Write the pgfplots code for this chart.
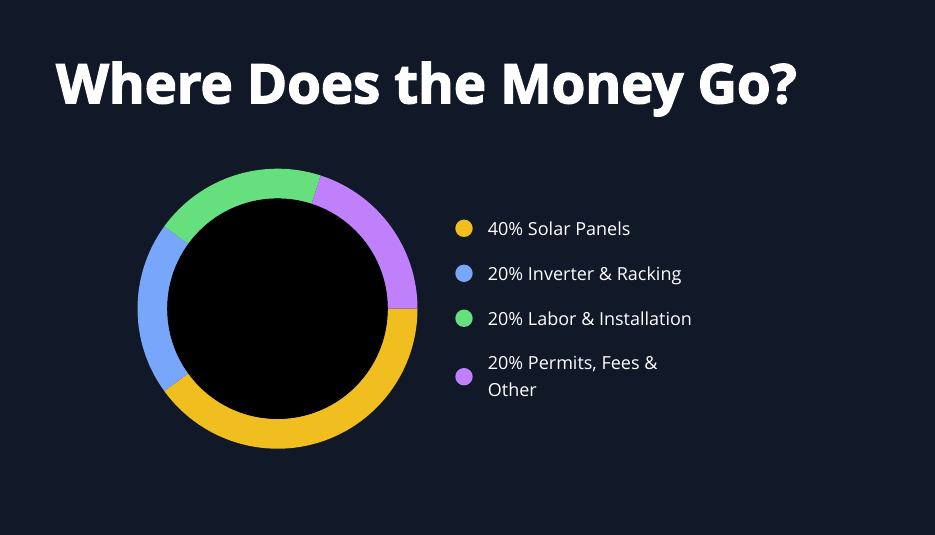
\documentclass[border=0pt]{standalone}
\usepackage{pgfplots}
\usepackage{pgfplotstable}
\pgfplotsset{compat=1.18}
\usepackage{fontspec}
\setmainfont{Open Sans}
\newfontfamily\titlefont[BoldFeatures={FakeBold=2.5}]{Open Sans}

\definecolor{bgc}{HTML}{111827}
\definecolor{solarc}{HTML}{F0BF1F}
\definecolor{inverterc}{HTML}{77A6FA}
\definecolor{laborc}{HTML}{66E07E}
\definecolor{permitc}{HTML}{C080FC}

% share of the money, clockwise from 3 o'clock
\pgfplotstableread{
share
40
20
20
20
}\shares

\begin{document}
\begin{tikzpicture}
  \pgfplotstablegetelem{0}{share}\of\shares \pgfmathsetmacro\aA{0-3.6*\pgfplotsretval}
  \pgfplotstablegetelem{1}{share}\of\shares \pgfmathsetmacro\aB{\aA-3.6*\pgfplotsretval}
  \pgfplotstablegetelem{2}{share}\of\shares \pgfmathsetmacro\aC{\aB-3.6*\pgfplotsretval}
  \pgfplotstablegetelem{3}{share}\of\shares \pgfmathsetmacro\aD{\aC-3.6*\pgfplotsretval}
  \fill[bgc] (0,0) rectangle (935pt,535pt);
  \begin{axis}[
    x=1pt, y=1pt,
    xmin=0, xmax=935, ymin=0, ymax=535,
    at={(0,0)}, anchor=south west,
    enlargelimits=false, hide axis, clip=false,
  ]
    % donut
    \fill[solarc] (axis cs:277.5,226.3) ++(0:140pt) arc[start angle=0, end angle=\aA, radius=140pt]
      -- ++(\aA:-30pt) arc[start angle=\aA, end angle=0, radius=110pt] -- cycle;
    \fill[inverterc] (axis cs:277.5,226.3) ++(\aA:140pt) arc[start angle=\aA, end angle=\aB, radius=140pt]
      -- ++(\aB:-30pt) arc[start angle=\aB, end angle=\aA, radius=110pt] -- cycle;
    \fill[laborc] (axis cs:277.5,226.3) ++(\aB:140pt) arc[start angle=\aB, end angle=\aC, radius=140pt]
      -- ++(\aC:-30pt) arc[start angle=\aC, end angle=\aB, radius=110pt] -- cycle;
    \fill[permitc] (axis cs:277.5,226.3) ++(\aC:140pt) arc[start angle=\aC, end angle=\aD, radius=140pt]
      -- ++(\aD:-30pt) arc[start angle=\aD, end angle=\aC, radius=110pt] -- cycle;
    \fill[black] (axis cs:277.5,226.3) circle[radius=110.3pt];

    % title
    \node[anchor=base west, inner sep=0pt, text=white, font=\titlefont\bfseries\fontsize{54.5}{60}\selectfont]
      at (axis cs:56,431.7) {Where Does the Money Go?};

    % legend
    \fill[solarc] (axis cs:464,306.7) circle[radius=8.7pt];
    \fill[inverterc] (axis cs:464,261.7) circle[radius=8.7pt];
    \fill[laborc] (axis cs:464,216.7) circle[radius=8.7pt];
    \fill[permitc] (axis cs:464,158.3) circle[radius=8.7pt];
    \begin{scope}[every node/.style={anchor=base west, inner sep=0pt, text=white, font=\fontsize{18}{20}\selectfont}]
      \node at (axis cs:487.7,299.3) {40\% Solar Panels};
      \node at (axis cs:487.7,254) {20\% Inverter \& Racking};
      \node at (axis cs:487.7,209.3) {20\% Labor \& Installation};
      \node at (axis cs:487.7,165) {20\% Permits, Fees \&};
      \node at (axis cs:487.7,138.3) {Other};
    \end{scope}
  \end{axis}
\end{tikzpicture}
\end{document}
